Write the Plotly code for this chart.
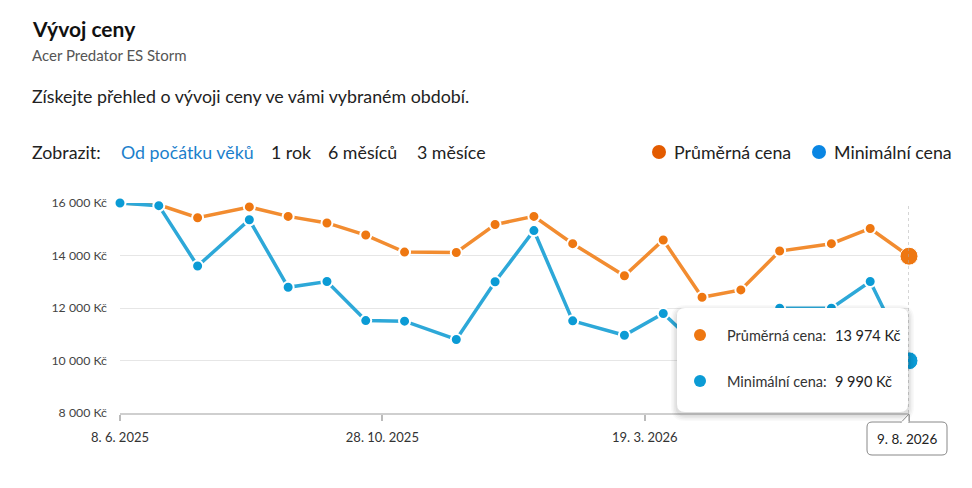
import plotly.graph_objects as go

# ---- data ----
dates = ["2025-06-08", "2025-06-29", "2025-07-20", "2025-08-17", "2025-09-07",
         "2025-09-28", "2025-10-19", "2025-11-09", "2025-12-07", "2025-12-28",
         "2026-01-18", "2026-02-08", "2026-03-08", "2026-03-29", "2026-04-19",
         "2026-05-10", "2026-05-31", "2026-06-28", "2026-07-19", "2026-08-09"]
avg_price = [16000, 15930, 15440, 15850, 15490, 15240, 14780, 14130, 14115, 15180,
             15490, 14450, 13230, 14590, 12410, 12690, 14170, 14450, 15030, 13974]
min_price = [16000, 15900, 13600, 15360, 12790, 13010, 11520, 11500, 10800, 13000,
             14950, 11510, 10960, 11790, 10400, 10700, 11990, 11990, 13010, 9990]
y_ticks = [8000, 10000, 12000, 14000, 16000]
x_tick_dates = ["2025-06-08", "2025-10-28", "2026-03-19", "2026-08-09"]
x_tick_labels = ["8. 6. 2025", "28. 10. 2025", "19. 3. 2026", ""]
series_names = ["Průměrná cena", "Minimální cena"]
filters = ["Od počátku věků", "1 rok", "6 měsíců", "3 měsíce"]
hover_date = "9. 8. 2026"

FONT = "Lato"
OFF = 8  # page body margin
W, H = 972 - OFF, 488 - OFF
L, R, T, B = 120, 909, 203, 413  # plot area in window pixels

def px(x):
    return (x - L) / (R - L)

def py(y):
    return (B - y) / (B - T)

def fmt(v):
    return f"{v:,}".replace(",", " ") + " Kč"

ORANGE_LINE = "#F28C30"
ORANGE_MK = "#EE7711"
BLUE_LINE = "#2DA8D8"
BLUE_MK = "#0B9BD5"

fig = go.Figure()
fig.add_trace(go.Scatter(x=dates, y=avg_price, mode="lines+markers", name=series_names[0],
                         line=dict(color=ORANGE_LINE, width=3.5),
                         marker=dict(color=ORANGE_MK, size=11, line=dict(color="white", width=2)),
                         cliponaxis=False, showlegend=False))
fig.add_trace(go.Scatter(x=dates, y=min_price, mode="lines+markers", name=series_names[1],
                         line=dict(color=BLUE_LINE, width=3.5),
                         marker=dict(color=BLUE_MK, size=11, line=dict(color="white", width=2)),
                         cliponaxis=False, showlegend=False))
# highlighted last point
fig.add_trace(go.Scatter(x=[dates[-1], dates[-1]], y=[avg_price[-1], min_price[-1]], mode="markers",
                         marker=dict(color=[ORANGE_MK, BLUE_MK], size=18, line=dict(color="white", width=1)),
                         cliponaxis=False, showlegend=False))

shapes = []
annotations = []

def text(x, y, s, size, color="#222", anchor="left", bold=False):
    if bold:
        s = f"<b>{s}</b>"
    annotations.append(dict(x=px(x), y=py(y), xref="paper", yref="paper", text=s, showarrow=False,
                            xanchor=anchor, yanchor="middle",
                            font=dict(family=FONT, size=size, color=color)))

def circle(cx, cy, d, color):
    r = d / 2
    shapes.append(dict(type="circle", xref="paper", yref="paper", x0=px(cx - r), x1=px(cx + r),
                       y0=py(cy + r), y1=py(cy - r), fillcolor=color, line=dict(width=0), layer="above"))

def rrect(x0, y0, x1, y1, r, fill, line_color=None, line_width=0):
    p = (f"M {px(x0 + r)} {py(y0)} L {px(x1 - r)} {py(y0)} Q {px(x1)} {py(y0)} {px(x1)} {py(y0 + r)} "
         f"L {px(x1)} {py(y1 - r)} Q {px(x1)} {py(y1)} {px(x1 - r)} {py(y1)} "
         f"L {px(x0 + r)} {py(y1)} Q {px(x0)} {py(y1)} {px(x0)} {py(y1 - r)} "
         f"L {px(x0)} {py(y0 + r)} Q {px(x0)} {py(y0)} {px(x0 + r)} {py(y0)} Z")
    shapes.append(dict(type="path", path=p, xref="paper", yref="paper", fillcolor=fill,
                       line=dict(color=line_color or fill, width=line_width), layer="above"))

BODY = 17.8
# header
text(30, 28, "Vývoj ceny", 21, "#111", bold=True)
text(30, 55, "Acer Predator ES Storm", 15, "#555")
text(30, 96, "Získejte přehled o vývoji ceny ve vámi vybraném období.", BODY, "#222")
text(30, 152, "Zobrazit:", BODY, "#222")
filter_x = [119, 269, 326, 415]
for i, (fx, f) in enumerate(zip(filter_x, filters)):
    text(fx, 152, f, BODY, "#1B7FCC" if i == 0 else "#222")

# legend
circle(659, 152, 14, "#E35B00")
text(672, 152, series_names[0], BODY, "#222")
circle(819, 152, 14, "#0A86E3")
text(832, 152, series_names[1], BODY, "#222")

# hover vertical dashed line
shapes.append(dict(type="line", xref="x", yref="paper", x0=dates[-1], x1=dates[-1], y0=0, y1=1,
                   line=dict(color="#aaa", width=1, dash="dot"), layer="above"))

# tooltip with shadow
for k, a in enumerate([0.025, 0.03, 0.035, 0.04]):
    g = 6 - k * 1.5
    rrect(677 - g, 308 - g + 3, 908 + g, 412 + g + 3, 8 + g, f"rgba(0,0,0,{a})")
rrect(677, 308, 908, 412, 8, "white")
circle(700, 335, 12, ORANGE_MK)
circle(700, 381, 12, BLUE_MK)
text(725, 335, series_names[0] + ":", 14.5, "#333")
text(833, 335, fmt(avg_price[-1]), 14.5, "#222")
text(725, 381, series_names[1] + ":", 14.5, "#333")
text(833, 381, fmt(min_price[-1]), 14.5, "#222")

# date box
rrect(867, 422, 947, 455, 5, "white", "#888", 1)
shapes.append(dict(type="path", xref="paper", yref="paper",
                   path=f"M {px(901)} {py(422.5)} L {px(909)} {py(414)} L {px(909)} {py(422.5)} Z",
                   fillcolor="white", line=dict(color="#888", width=1), layer="above"))
shapes.append(dict(type="line", xref="paper", yref="paper", x0=px(901.5), x1=px(908.5),
                   y0=py(422.3), y1=py(422.3), line=dict(color="white", width=2), layer="above"))
text(907, 438.5, hover_date, 13.5, "#222", anchor="center")

fig.update_layout(
    width=W, height=H,
    margin=dict(l=L - OFF, r=W - (R - OFF), t=T - OFF, b=H - (B - OFF)),
    paper_bgcolor="white", plot_bgcolor="white",
    font=dict(family=FONT, color="#444"),
    shapes=shapes, annotations=annotations,
    xaxis=dict(range=[dates[0], dates[-1]], tickvals=x_tick_dates, ticktext=x_tick_labels,
               showgrid=False, showline=True, linecolor="#cfcfcf", linewidth=1.5,
               ticks="outside", ticklen=6, tickcolor="#bbb", tickwidth=1.5,
               tickfont=dict(family=FONT, size=13, color="#333"), ticklabelstandoff=6,
               zeroline=False, fixedrange=True),
    yaxis=dict(range=[8000, 16000], tickvals=y_ticks, ticktext=[fmt(v) for v in y_ticks],
               showgrid=True, gridcolor="#e6e6e6", gridwidth=1, zeroline=False,
               tickfont=dict(family=FONT, size=12.3, color="#444"), ticklabelstandoff=12,
               showline=False, fixedrange=True),
    hovermode=False,
)

fig.write_html("out.html")
